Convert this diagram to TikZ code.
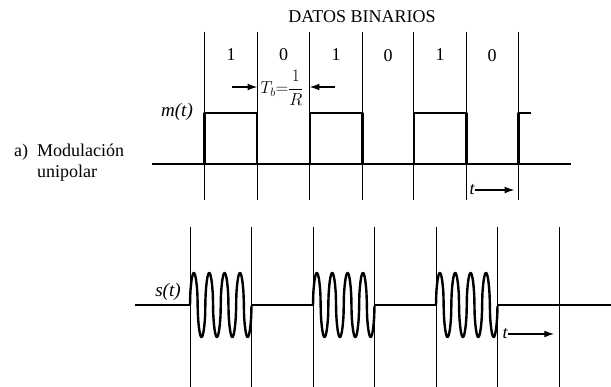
\documentclass[tikz,border=0pt]{standalone}
\usepackage{fontspec}
\setmainfont{Liberation Serif}
\usetikzlibrary{arrows.meta, positioning}

\begin{document}
\begin{tikzpicture}[x=1pt, y=-1pt,
    >={Latex[width=2.4mm, length=3.4mm]},
    rejilla/.style={line width=0.9pt},
    base/.style   ={line width=1.5pt},
    senal/.style  ={line width=2.4pt, line join=round},
    etiq/.style   ={inner sep=0pt, font=\fontsize{18}{20}\selectfont},
    flecha/.style ={->, line width=1.1pt},
]
\useasboundingbox (0,0) rectangle (611,387);

% rejilla superior (m(t))
\foreach \n/\xa in {1/204.6, 2/257.2, 3/309.8, 4/362.4, 5/413.9, 6/466.5, 7/518.3} {
  \coordinate (a\n) at (\xa,32);
  \coordinate (b\n) at (\xa,200);
  \draw[rejilla] (a\n) -- (b\n);
}
% rejilla inferior (s(t))
\foreach \n/\xa in {1/190, 2/251.5, 3/313, 4/374.5, 5/436, 6/497.5, 7/559} {
  \coordinate (c\n) at (\xa,227);
  \coordinate (d\n) at (\xa,387);
  \draw[rejilla] (c\n) -- (d\n);
}

\node[etiq] (titulo) at (362,17) {DATOS BINARIOS};
\node[etiq] (bit1) at (231,55)   {1};
\node[etiq] (bit2) at (283.5,55) {0};
\node[etiq] (bit3) at (336,55)   {1};
\node[etiq] (bit4) at (388,56)   {0};
\node[etiq] (bit5) at (440,55)   {1};
\node[etiq] (bit6) at (492,56)   {0};

% periodo de bit
\node[etiq, font=\fontsize{16.5}{18}\selectfont] (tb) at (282,88) {$T_b{=}\displaystyle\frac{1}{R}$};
\coordinate (tbi) at (232,87);
\coordinate (tbd) at (335,87);
\draw[flecha] (tbi) -- (a2 |- tbi);
\draw[flecha] (tbd) -- (a3 |- tbd);

% m(t)
\node[etiq, font=\fontsize{19}{21}\selectfont] (mt) at (177,112) {\itshape m(t)};
\draw[base] (152,164) -- (571,164);
\draw[senal] (152,164) -- (204.6,164) -- (204.6,113) -- (257.2,113) -- (257.2,164)
  -- (309.8,164) -- (309.8,113) -- (362.4,113) -- (362.4,164)
  -- (413.9,164) -- (413.9,113) -- (466.5,113) -- (466.5,164)
  -- (518.3,164) -- (518.3,113) -- (531,113);
\node[etiq, font=\fontsize{18}{20}\selectfont] (t1) at (472,190) {\itshape t};
\draw[flecha, shorten >=4pt] (t1.east) -- (b7 |- t1);

\node[etiq, font=\fontsize{18}{21}\selectfont, anchor=north west] (caso) at (14,142)
  {\begin{tabular}{@{}l@{\ \ }l@{}}a) & Modulación\\ & unipolar\end{tabular}};

% s(t)
\node[etiq, font=\fontsize{19}{21}\selectfont] (st) at (168,292) {\itshape s(t)};
\draw[base] (134.5,305) -- (190,305);
\draw[base] (251.5,305) -- (313,305);
\draw[base] (374.5,305) -- (436,305);
\draw[base] (497.5,305) -- (611,305);
\foreach \xo in {190, 313, 436} {
  \draw[senal] plot[domain=0:61.5, samples=200, smooth]
    ({\xo+\x},{305-32*sign(sin(1440*(\x/61.5)))*sqrt(abs(sin(1440*(\x/61.5))))});
}
\node[etiq, font=\fontsize{18}{20}\selectfont] (t2) at (505,334) {\itshape t};
\draw[flecha, shorten >=5pt] (t2.east) -- (d7 |- t2);
\end{tikzpicture}
\end{document}
